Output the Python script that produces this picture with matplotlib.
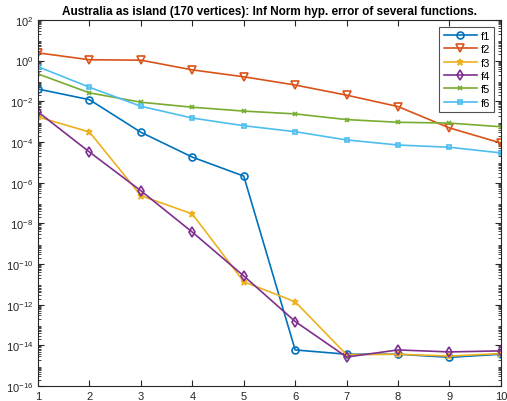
import numpy as np
import matplotlib
matplotlib.use('Agg')
import matplotlib.pyplot as plt
from matplotlib.ticker import LogLocator, NullFormatter

n = np.arange(1, 11)

f1 = [4e-2, 1.2e-2, 3e-4, 1.8e-5, 2.1e-6, 6e-15, 3.7e-15, 3.7e-15, 2.6e-15, 3.7e-15]
f2 = [2.4, 1.1, 1.05, 0.35, 0.16, 0.063, 0.02, 5.5e-3, 4.9e-4, 8.9e-5]
f3 = [1.7e-3, 3.1e-4, 2.3e-7, 2.9e-8, 1.35e-11, 1.4e-12, 3.5e-15, 3.7e-15, 3e-15, 4e-15]
f4 = [3e-3, 3.2e-5, 4e-7, 3.7e-9, 2.6e-11, 1.5e-13, 2.7e-15, 6e-15, 4.8e-15, 5.4e-15]
f5 = [0.22, 0.026, 9e-3, 5.1e-3, 3.3e-3, 2.4e-3, 1.26e-3, 9.3e-4, 8.5e-4, 5.6e-4]
f6 = [0.5, 0.049, 5.7e-3, 1.5e-3, 6.3e-4, 3.2e-4, 1.26e-4, 7.1e-5, 5.5e-5, 2.9e-5]

names = ['f1', 'f2', 'f3', 'f4', 'f5', 'f6']
colors = ['#0072BD', '#D95319', '#EDB120', '#7E2F8E', '#77AC30', '#4DBEEE']
markers = ['o', 'v', '*', 'd', 'x', 's']
msizes = [5, 5.5, 4.5, 5, 3.5, 3.5]

plt.rcParams['font.family'] = ['Liberation Sans', 'DejaVu Sans']
plt.rcParams['mathtext.fontset'] = 'custom'
plt.rcParams['mathtext.rm'] = 'Liberation Sans'
plt.rcParams['mathtext.it'] = 'Liberation Sans'

fig = plt.figure(figsize=(5.07, 4.02), dpi=100)
ax = fig.add_axes([0.075, 0.037, 0.913, 0.911])

for y, name, c, m, ms in zip([f1, f2, f3, f4, f5, f6], names, colors, markers, msizes):
    ax.semilogy(n, y, color=c, marker=m, markersize=ms, markerfacecolor='none',
                markeredgewidth=1.2, linewidth=1.2, label=name)

ax.set_xlim(1, 10)
ax.set_ylim(1e-16, 1e2)
ax.set_xticks(range(1, 11))
ax.set_yticks([10.0**k for k in range(-16, 3, 2)])
ax.yaxis.set_minor_locator(LogLocator(base=10, subs=np.arange(2, 10), numticks=100))
ax.yaxis.set_minor_formatter(NullFormatter())
ax.tick_params(which='both', direction='in', top=True, right=True, labelsize=8, colors='#262626')
ax.tick_params(which='major', length=4)
ax.tick_params(which='minor', length=2)
for s in ax.spines.values():
    s.set_color('#262626')
    s.set_linewidth(0.8)

ax.set_title('Australia as island (170 vertices): Inf Norm hyp. error of several functions.',
             fontsize=8.5, fontweight='bold', pad=4)
leg = ax.legend(loc='upper right', fontsize=8, fancybox=False, edgecolor='#262626',
                handlelength=3.0, borderpad=0.4, labelspacing=0.3, handletextpad=0.3,
                borderaxespad=0.6)
leg.get_frame().set_linewidth(0.8)

fig.savefig('out.png', dpi=100)
